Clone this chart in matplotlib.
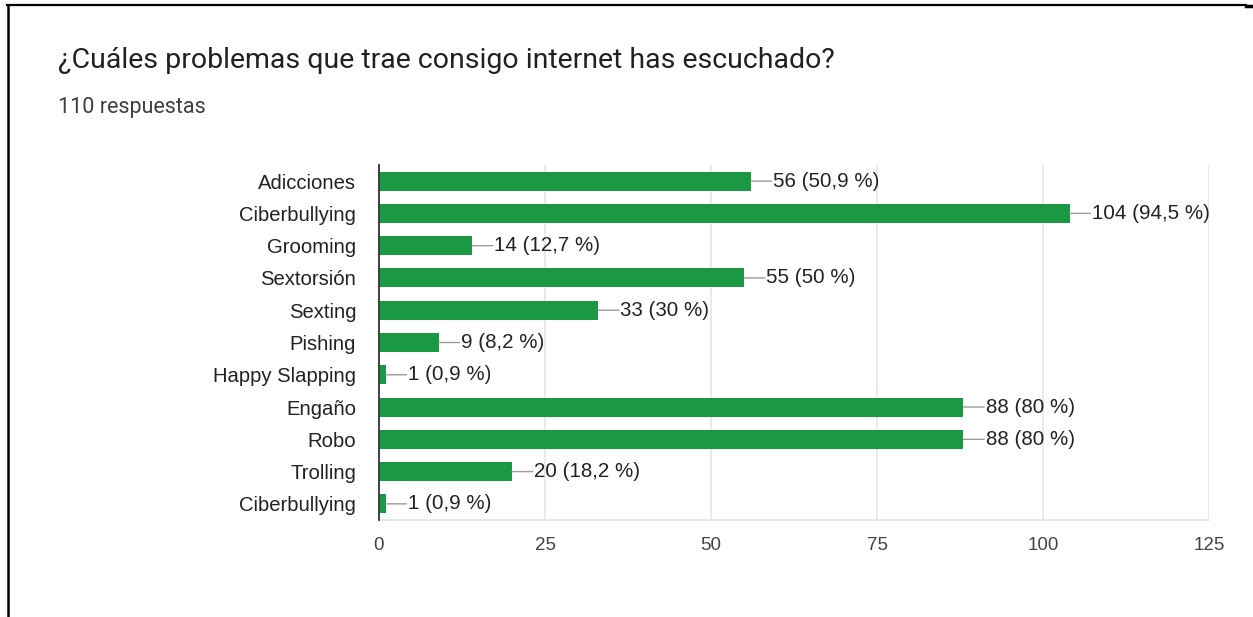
import matplotlib
matplotlib.use("Agg")
import matplotlib.pyplot as plt
from matplotlib.lines import Line2D

title = "¿Cuáles problemas que trae consigo internet has escuchado?"
subtitle = "110 respuestas"
total = 110
categories = ["Adicciones", "Ciberbullying", "Grooming", "Sextorsión", "Sexting",
              "Pishing", "Happy Slapping", "Engaño", "Robo", "Trolling", "Ciberbullying"]
values = [56, 104, 14, 55, 33, 9, 1, 88, 88, 20, 1]
percent_labels = ["50,9", "94,5", "12,7", "50", "30", "8,2", "0,9", "80", "80", "18,2", "0,9"]
xticks = [0, 25, 50, 75, 100, 125]

W, H = 1253, 617
fig = plt.figure(figsize=(W / 100, H / 100), dpi=100)
fig.patch.set_facecolor("white")

def fx(px):
    return px / W

def fy(py):
    return 1 - py / H

ax = fig.add_axes([fx(379), fy(520), fx(1209) - fx(379), fy(165) - fy(520)])

green = "#1a9843"
pos = list(range(len(categories)))
ax.barh(pos, values, height=0.59, color=green, zorder=3)
ax.set_ylim(len(categories) - 0.5, -0.5)
ax.set_xlim(0, 125)
ax.set_xticks(xticks)
ax.set_xticklabels([str(t) for t in xticks])
ax.set_yticks(pos)
ax.set_yticklabels(categories)

lab_font = dict(family="Liberation Sans", size=14.8, color="#222222")
for lab in ax.get_yticklabels():
    lab.set_fontfamily("Liberation Sans")
    lab.set_fontsize(14.6)
    lab.set_color("#222222")
for lab in ax.get_xticklabels():
    lab.set_fontfamily("Liberation Sans")
    lab.set_fontsize(13.5)
    lab.set_color("#444444")

ax.tick_params(axis="y", length=0, pad=16.5)
ax.tick_params(axis="x", length=0, pad=12)
ax.grid(axis="x", color="#e6e6e6", linewidth=1.2, zorder=0)
for s in ["top", "right"]:
    ax.spines[s].set_visible(False)
ax.spines["bottom"].set_color("#e6e6e6")
ax.spines["bottom"].set_linewidth(1.2)
ax.spines["left"].set_color("#333333")
ax.spines["left"].set_linewidth(1.3)
ax.spines["left"].set_zorder(5)

for i, (v, p) in enumerate(zip(values, percent_labels)):
    ax.annotate("", xy=(v, i), xytext=(15, 0), textcoords="offset points",
                arrowprops=dict(arrowstyle="-", color="#9a9a9a", lw=1.0,
                                shrinkA=0, shrinkB=0), zorder=4)
    ax.annotate(f"{v} ({p} %)", xy=(v, i), xytext=(16, 0), textcoords="offset points",
                ha="left", va="center", **lab_font, zorder=4)

fig.text(fx(58), fy(61), title, ha="left", va="center", family="Roboto",
         size=20.5, color="#202124")
fig.text(fx(58), fy(108), subtitle, ha="left", va="center", family="Roboto",
         size=15.5, color="#3c4043")

# page border
fig.add_artist(Line2D([fx(7), fx(1246)], [fy(5), fy(5)], color="black", lw=1.6,
                      transform=fig.transFigure))
fig.add_artist(Line2D([fx(8), fx(8)], [fy(5), 0], color="black", lw=1.8,
                      transform=fig.transFigure))
fig.add_artist(Line2D([fx(1246), fx(1253)], [fy(5.5), fy(5.5)], color="black", lw=2.5,
                      transform=fig.transFigure))

fig.savefig("out.png", dpi=100, facecolor="white")
